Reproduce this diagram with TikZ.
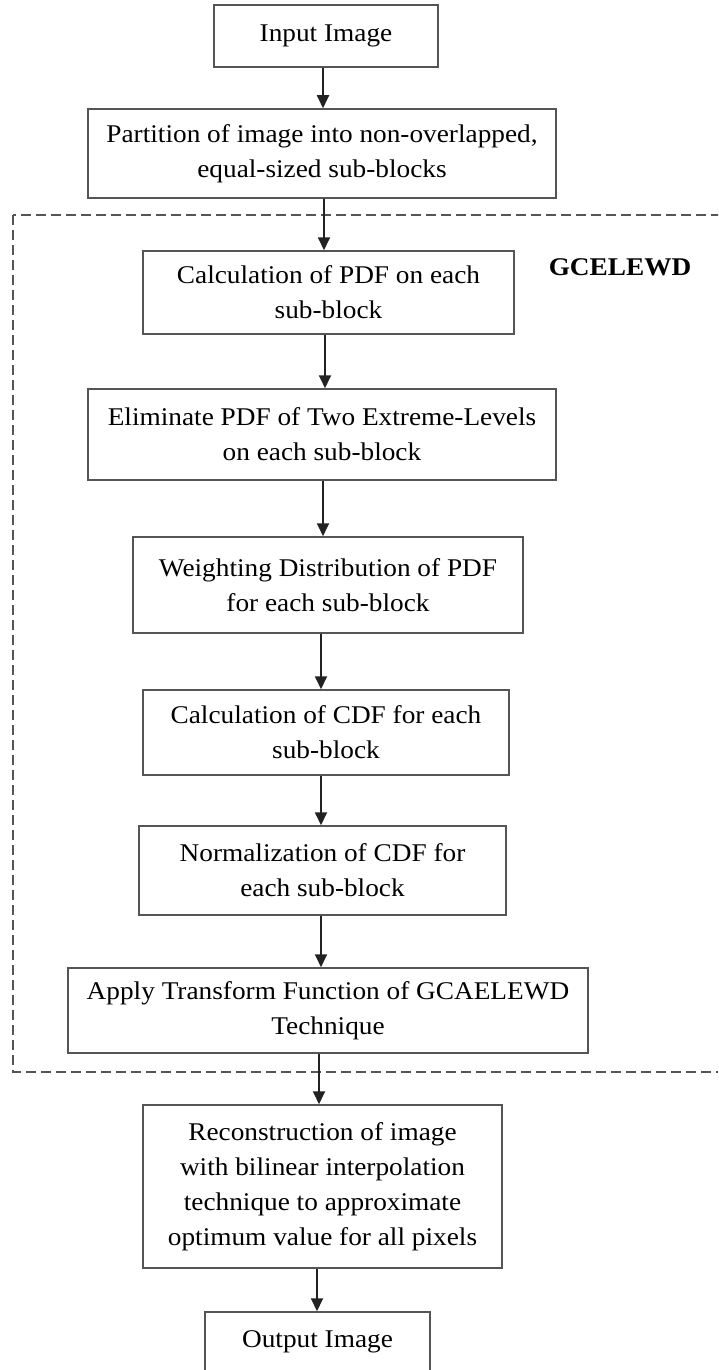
\documentclass[tikz,border=0pt]{standalone}
\usepackage{fontspec}
\setmainfont{Liberation Serif}[FakeStretch=1.07]
\usetikzlibrary{arrows.meta}
\definecolor{framegray}{HTML}{555555}
\definecolor{linkgray}{HTML}{222222}
\tikzset{
  stepbox/.style={draw=framegray, line width=1.5pt, align=center, inner sep=0pt,
                  font=\fontsize{25.5}{35}\selectfont, text=black},
  flow/.style={-{Triangle[length=13pt,width=12pt]}, line width=1.8pt, draw=linkgray, fill=linkgray},
  groupframe/.style={draw=framegray, dash pattern=on 10pt off 5pt, line width=1.7pt},
  grouplabel/.style={font=\fontsize{25.5}{35}\selectfont\bfseries, text=black}
}
\begin{document}
\begin{tikzpicture}[x=1pt,y=-1pt]
\useasboundingbox (0,0) rectangle (718,1370);
\clip (0,0) rectangle (718,1370);

% dashed frame around the GCELEWD stages (open to the right)
\draw[groupframe] (13,215) rectangle (740,1072);
\node[grouplabel] (glabel) at (620,267) {GCELEWD};

% process steps
\node[stepbox, minimum width=224pt, minimum height=62pt] (inp) at (326,36) {Input Image};
\node[stepbox, minimum width=468pt, minimum height=89pt] (part) at (322,153.5)
  {Partition of image into non-overlapped,\\ equal-sized sub-blocks};
\node[stepbox, minimum width=371pt, minimum height=83pt] (cpdf) at (328.5,292.5)
  {Calculation of PDF on each\\ sub-block};
\node[stepbox, minimum width=468pt, minimum height=91pt] (elim) at (322,434.5)
  {Eliminate PDF of Two Extreme-Levels\\ on each sub-block};
\node[stepbox, minimum width=390pt, minimum height=96pt] (wdist) at (328,585)
  {Weighting Distribution of PDF\\ for each sub-block};
\node[stepbox, minimum width=366pt, minimum height=85pt] (ccdf) at (326,732.5)
  {Calculation of CDF for each\\ sub-block};
\node[stepbox, minimum width=367pt, minimum height=89pt] (norm) at (322.5,870.5)
  {Normalization of CDF for\\ each sub-block};
\node[stepbox, minimum width=520pt, minimum height=85pt] (apply) at (328,1010.5)
  {Apply Transform Function of GCAELEWD\\ Technique};
\node[stepbox, minimum width=359pt, minimum height=163pt] (recon) at (322.5,1186.5)
  {Reconstruction of image\\ with bilinear interpolation\\ technique to approximate\\ optimum value for all pixels};
\node[stepbox, minimum width=225pt, minimum height=60pt] (out) at (317.5,1342) {Output Image};

% connectors
\draw[flow] (inp.south -| 323,0)   -- (part.north -| 323,0);
\draw[flow] (part.south -| 324,0)  -- (cpdf.north -| 324,0);
\draw[flow] (cpdf.south -| 325,0)  -- (elim.north -| 325,0);
\draw[flow] (elim.south -| 323,0)  -- (wdist.north -| 323,0);
\draw[flow] (wdist.south -| 321,0) -- (ccdf.north -| 321,0);
\draw[flow] (ccdf.south -| 321,0)  -- (norm.north -| 321,0);
\draw[flow] (norm.south -| 321,0)  -- (apply.north -| 321,0);
\draw[flow] (apply.south -| 319,0) -- (recon.north -| 319,0);
\draw[flow] (recon.south -| 317,0) -- (out.north -| 317,0);
\end{tikzpicture}
\end{document}
